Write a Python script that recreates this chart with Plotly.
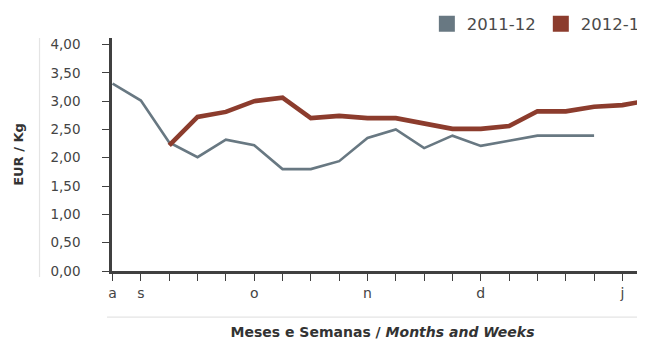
import plotly.graph_objects as go

weeks = list(range(20))
tick_labels = ["a", "s", "", "", "", "o", "", "", "", "n", "", "", "", "d", "", "", "", "", "j"]
s2011 = [3.31, 3.01, 2.27, 2.01, 2.32, 2.22, 1.80, 1.80, 1.94, 2.35,
         2.50, 2.17, 2.39, 2.21, 2.30, 2.39, 2.39, 2.39]
s2012 = [None, None, 2.22, 2.72, 2.81, 3.00, 3.06, 2.70, 2.74, 2.70,
         2.70, 2.60, 2.51, 2.51, 2.56, 2.82, 2.82, 2.90, 2.93, 3.02]
names = ["2011-12", "2012-13"]
colors = ["#687882", "#8c3c2d"]

FONT = "DejaVu Sans"
fig = go.Figure()
fig.add_trace(go.Scatter(x=weeks[:len(s2011)], y=s2011, mode="lines", name=names[0],
                         line=dict(color=colors[0], width=2.6), showlegend=False))
fig.add_trace(go.Scatter(x=weeks[:len(s2012)], y=s2012, mode="lines", name=names[1],
                         line=dict(color=colors[1], width=4.6), showlegend=False))
for n, c in zip(names, colors):
    fig.add_trace(go.Scatter(x=[None], y=[None], mode="markers", name=n,
                             marker=dict(symbol="square", size=16, color=c)))

fig.update_layout(
    width=645, height=344,
    margin=dict(l=104, r=0, t=30, b=81.3, autoexpand=False),
    paper_bgcolor="white", plot_bgcolor="white",
    font=dict(family=FONT, color="#444444"),
    legend=dict(orientation="h", x=0.582, xanchor="left", y=1.06, yanchor="middle",
                font=dict(size=16.5, color="#4a4a4a"), bgcolor="rgba(0,0,0,0)",
                itemclick=False),
    xaxis=dict(range=[-0.02, 19.08], tickmode="array", tickvals=list(range(19)),
               ticktext=tick_labels, ticks="outside", ticklen=7, tickwidth=1.3,
               tickcolor="#404040", showline=True, linecolor="#404040", linewidth=2.5,
               showgrid=False, zeroline=False, tickfont=dict(size=14, color="#444444"),
               title=dict(text="<b>Meses e Semanas / <i>Months and Weeks</i></b>",
                          font=dict(size=14, color="#333333"), standoff=28)),
    yaxis=dict(range=[0, 4.115], tickvals=[0, 0.5, 1, 1.5, 2, 2.5, 3, 3.5, 4],
               ticktext=["0,00", "0,50", "1,00", "1,50", "2,00", "2,50", "3,00", "3,50", "4,00"],
               ticks="outside", ticklen=7, tickwidth=1.3, tickcolor="#404040",
               showline=True, linecolor="#404040", linewidth=2.5, showgrid=False,
               zeroline=False, tickfont=dict(size=13.5, color="#444444"),
               ticklabelstandoff=19,
               title=dict(text="<b>EUR / Kg</b>", font=dict(size=13, color="#333333"),
                          standoff=24)),
    shapes=[
        dict(type="line", xref="paper", yref="paper", x0=-0.134, x1=-0.134, y0=-0.026, y1=1.0,
             line=dict(color="#e4e4e4", width=1.2)),
        dict(type="line", xref="paper", yref="paper", x0=-0.0092, x1=1.0, y0=-0.198, y1=-0.198,
             line=dict(color="#e4e4e4", width=1.2)),
    ],
)
fig.write_html("out.html")
